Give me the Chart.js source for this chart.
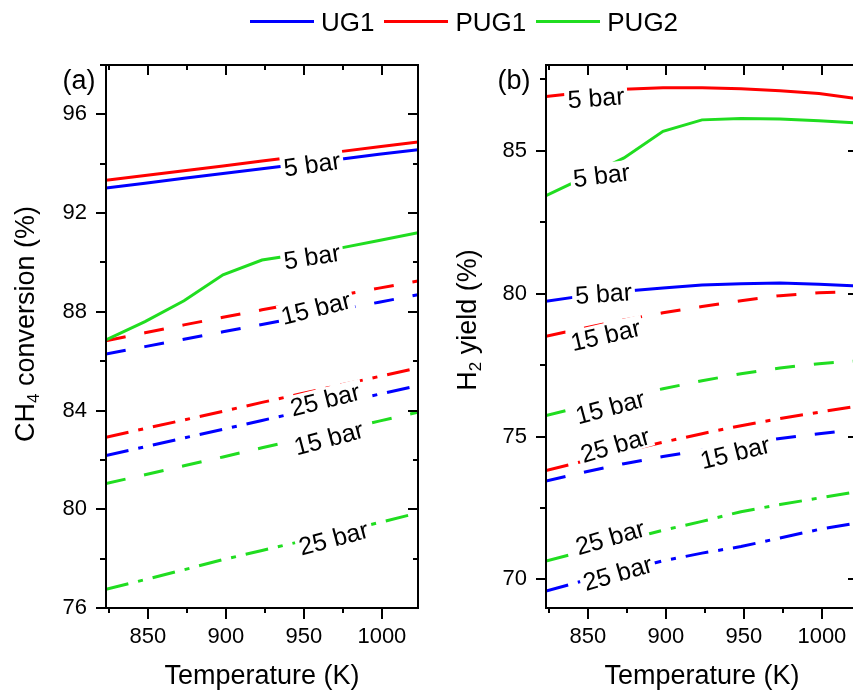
<!DOCTYPE html>
<html><head><meta charset="utf-8">
<script src="https://cdn.jsdelivr.net/npm/chart.js@4.4.1/dist/chart.umd.min.js"></script>
<style>
html,body{margin:0;padding:0;background:#fff;overflow:hidden;}
#wrap{position:relative;width:853px;height:693px;overflow:hidden;background:#fff;font-family:"Liberation Sans",Arial,sans-serif;}
canvas{position:absolute;top:0;}
#ca{left:0;} #cb{left:430px;}
#legend{position:absolute;left:250px;top:1px;height:42px;display:flex;align-items:center;}
.lg-line{width:64px;height:3px;position:relative;top:-1px;}
.lg-text{font-size:26px;line-height:30px;color:#000;white-space:nowrap;margin-left:7px;margin-right:10px;}
</style></head><body>
<div id="wrap">
<canvas id="ca" width="430" height="693"></canvas>
<canvas id="cb" width="440" height="693"></canvas>
<div id="legend"></div>
</div>
<script>
// ---------- data ----------
const temperatureK = [823.15, 848.15, 873.15, 898.15, 923.15, 948.15, 973.15, 998.15, 1023.15];
const seriesNames = ['UG1', 'PUG1', 'PUG2'];
const pressures = ['5 bar', '15 bar', '25 bar'];

// axis ticks
const xTickValues = [825, 850, 875, 900, 925, 950, 975, 1000];
const xTickLabels = [850, 900, 950, 1000];
const yTickValuesA = [76, 78, 80, 82, 84, 86, 88, 90, 92, 94, 96, 98];
const yTickLabelsA = [76, 80, 84, 88, 92, 96];
const yTickValuesB = [70, 72.5, 75, 77.5, 80, 82.5, 85, 87.5];
const yTickLabelsB = [70, 75, 80, 85];

// (a) CH4 conversion (%)
const ch4_UG1_5   = [93.02, 93.21, 93.41, 93.60, 93.80, 93.99, 94.18, 94.38, 94.57];
const ch4_PUG1_5  = [93.33, 93.52, 93.72, 93.91, 94.11, 94.30, 94.49, 94.69, 94.88];
const ch4_PUG2_5  = [86.86, 87.60, 88.45, 89.50, 90.10, 90.34, 90.58, 90.89, 91.20];
const ch4_UG1_15  = [86.29, 86.59, 86.89, 87.19, 87.49, 87.79, 88.09, 88.39, 88.69];
const ch4_PUG1_15 = [86.83, 87.15, 87.47, 87.78, 88.08, 88.38, 88.67, 88.96, 89.25];
const ch4_PUG2_15 = [81.04, 81.40, 81.76, 82.12, 82.49, 82.85, 83.21, 83.57, 83.93];
const ch4_UG1_25  = [82.18, 82.53, 82.89, 83.24, 83.60, 83.95, 84.31, 84.66, 85.01];
const ch4_PUG1_25 = [82.92, 83.27, 83.62, 83.97, 84.33, 84.68, 85.03, 85.38, 85.73];
const ch4_PUG2_25 = [76.76, 77.15, 77.55, 77.96, 78.33, 78.70, 79.08, 79.46, 79.85];

// (b) H2 yield (%)
const h2_UG1_5   = [79.73, 79.93, 80.08, 80.20, 80.30, 80.35, 80.37, 80.33, 80.27];
const h2_PUG1_5  = [86.90, 87.05, 87.15, 87.20, 87.20, 87.17, 87.10, 87.00, 86.82];
const h2_PUG2_5  = [83.43, 84.08, 84.75, 85.68, 86.08, 86.13, 86.11, 86.05, 85.97];
const h2_UG1_15  = [73.44, 73.76, 74.05, 74.30, 74.52, 74.73, 74.93, 75.10, 75.25];
const h2_PUG1_15 = [78.51, 78.80, 79.08, 79.33, 79.55, 79.75, 79.93, 80.03, 80.08];
const h2_PUG2_15 = [75.73, 76.07, 76.40, 76.67, 76.95, 77.20, 77.40, 77.55, 77.65];
const h2_UG1_25  = [69.59, 69.97, 70.30, 70.65, 70.92, 71.15, 71.45, 71.75, 71.98];
const h2_PUG1_25 = [73.81, 74.15, 74.48, 74.80, 75.10, 75.38, 75.63, 75.85, 76.07];
const h2_PUG2_25 = [70.64, 71.00, 71.37, 71.72, 72.03, 72.37, 72.62, 72.85, 73.07];

// inline curve labels (data coordinates + text angle)
const curveLabelsA = [
  {x: 955.2, y: 94.00, text: '5 bar',  rot: -8},
  {x: 955.2, y: 90.26, text: '5 bar',  rot: -9},
  {x: 957.6, y: 88.17, text: '15 bar', rot: -14},
  {x: 963.5, y: 84.46, text: '25 bar', rot: -14},
  {x: 965.8, y: 82.90, text: '15 bar', rot: -15},
  {x: 969.0, y: 78.85, text: '25 bar', rot: -15}
];
const curveLabelsB = [
  {x: 855.2, y: 86.87, text: '5 bar',  rot: -4},
  {x: 858.7, y: 84.16, text: '5 bar',  rot: -7},
  {x: 860.0, y: 80.02, text: '5 bar',  rot: -4},
  {x: 861.3, y: 78.57, text: '15 bar', rot: -13},
  {x: 864.2, y: 76.05, text: '15 bar', rot: -15},
  {x: 867.4, y: 74.72, text: '25 bar', rot: -16},
  {x: 944.3, y: 74.46, text: '15 bar', rot: -14},
  {x: 864.2, y: 71.49, text: '25 bar', rot: -16},
  {x: 869.0, y: 70.24, text: '25 bar', rot: -16}
];

// ---------- styles ----------
const FONT = '"Liberation Sans", Arial, sans-serif';
const colors = {UG1: '#0000ff', PUG1: '#ff0000', PUG2: '#20dd20'};
const dashStyles = {'5 bar': [], '15 bar': [20, 19], '25 bar': [23, 10, 5, 10]};

Chart.defaults.font.family = FONT;
Chart.defaults.color = '#000';

// legend (HTML)
const lg = document.getElementById('legend');
seriesNames.forEach(n => {
  const l = document.createElement('div'); l.className = 'lg-line'; l.style.background = colors[n]; lg.appendChild(l);
  const t = document.createElement('div'); t.className = 'lg-text'; t.textContent = n; lg.appendChild(t);
});

function ds(name, p, values) {
  return {
    label: name + ' ' + p,
    data: temperatureK.map((t, i) => ({x: t, y: values[i]})),
    borderColor: colors[name], backgroundColor: colors[name],
    borderDash: dashStyles[p], borderWidth: 3, borderCapStyle: 'butt',
    pointRadius: 0, pointHoverRadius: 0, tension: 0, fill: false
  };
}

const inlineLabels = {
  id: 'inlineLabels',
  afterDatasetsDraw(chart, args, opts) {
    const {ctx, chartArea: a, scales: {x, y}} = chart;
    const fs = opts.size || 25;
    ctx.save();
    ctx.beginPath(); ctx.rect(a.left, a.top, a.right - a.left, a.bottom - a.top); ctx.clip();
    ctx.font = fs + 'px ' + FONT;
    (opts.items || []).forEach(it => {
      const px = x.getPixelForValue(it.x), py = y.getPixelForValue(it.y);
      ctx.save();
      ctx.translate(px, py);
      ctx.rotate(it.rot * Math.PI / 180);
      const w = ctx.measureText(it.text).width;
      ctx.fillStyle = '#fff';
      ctx.fillRect(-w / 2 - 3, -fs * 0.46, w + 6, fs * 0.92);
      ctx.fillStyle = '#000';
      ctx.textAlign = 'center'; ctx.textBaseline = 'alphabetic';
      ctx.fillText(it.text, 0, fs * 0.36);
      ctx.restore();
    });
    ctx.restore();
  }
};

const frame = {
  id: 'frame',
  afterDraw(chart, args, opts) {
    const {ctx, chartArea: a, scales: {x, y}} = chart;
    ctx.save();
    ctx.strokeStyle = '#000'; ctx.lineWidth = 2; ctx.lineCap = 'butt';
    const L = (x1, y1, x2, y2) => { ctx.beginPath(); ctx.moveTo(x1, y1); ctx.lineTo(x2, y2); ctx.stroke(); };
    const l = Math.round(a.left), r = Math.round(a.right), t = Math.round(a.top), b = Math.round(a.bottom);
    ctx.strokeRect(l, t, r - l, b - t);
    x.ticks.forEach(tk => {
      if (tk.value < x.min || tk.value > x.max) return;
      const px = Math.round(x.getPixelForValue(tk.value));
      const major = tk.label !== '';
      L(px, b, px, b + (major ? 11 : 5));
      L(px, t, px, t + (major ? 10 : 5));
    });
    y.ticks.forEach(tk => {
      if (tk.value < y.min || tk.value > y.max) return;
      const py = Math.round(y.getPixelForValue(tk.value));
      const major = tk.label !== '';
      L(l, py, l - (major ? 10 : 6), py);
      L(r, py, r - (major ? 10 : 5), py);
    });
    // panel tag
    ctx.fillStyle = '#000';
    ctx.font = '27px ' + FONT;
    ctx.textAlign = 'center'; ctx.textBaseline = 'middle';
    ctx.fillText(opts.tag, a.left + opts.tagDx, a.top + 17);
    // rotated y title with subscript
    const fs = 27, sfs = 17;
    ctx.save();
    ctx.translate(opts.titleX, opts.titleY);
    ctx.rotate(-Math.PI / 2);
    ctx.textAlign = 'left'; ctx.textBaseline = 'alphabetic';
    let total = 0;
    opts.titleParts.forEach(p => { ctx.font = (p.sub ? sfs : fs) + 'px ' + FONT; total += ctx.measureText(p.t).width; });
    let cx = -total / 2;
    opts.titleParts.forEach(p => {
      ctx.font = (p.sub ? sfs : fs) + 'px ' + FONT;
      ctx.fillText(p.t, cx, p.sub ? 5 : 0);
      cx += ctx.measureText(p.t).width;
    });
    ctx.restore();
    ctx.restore();
  }
};

function makeChart(id, datasets, yMin, yMax, yTickValues, yTickLabels, yAxisWidth, labelItems, tag, tagDx, titleParts, titleX, titleY) {
  return new Chart(document.getElementById(id), {
    type: 'line',
    data: {datasets},
    plugins: [inlineLabels, frame],
    options: {
      responsive: false, animation: false, devicePixelRatio: 1,
      layout: {padding: {left: 0, right: 12, top: 65, bottom: 0}},
      plugins: {
        legend: {display: false}, tooltip: {enabled: false},
        inlineLabels: {items: labelItems, size: 25},
        frame: {tag, tagDx, titleParts, titleX, titleY}
      },
      scales: {
        x: {
          type: 'linear', min: 823.15, max: 1023.15,
          afterBuildTicks: s => { s.ticks = xTickValues.map(v => ({value: v})); },
          afterFit: s => { s.height = 85; },
          grid: {display: false, drawTicks: false}, border: {display: false},
          ticks: {autoSkip: false, maxRotation: 0, minRotation: 0,
                  padding: 16, font: {size: 22}, color: '#000',
                  callback: v => (xTickLabels.includes(v) ? String(v) : '')},
          title: {display: true, text: 'Temperature (K)', font: {size: 27}, color: '#000', padding: {top: 0, bottom: 0}}
        },
        y: {
          type: 'linear', min: yMin, max: yMax,
          afterBuildTicks: s => { s.ticks = yTickValues.map(v => ({value: v})); },
          afterFit: s => { s.width = yAxisWidth; },
          grid: {display: false, drawTicks: false}, border: {display: false},
          ticks: {autoSkip: false, padding: 19, font: {size: 22}, color: '#000',
                  callback: v => (yTickLabels.includes(v) ? String(v) : '')}
        }
      }
    }
  });
}

makeChart('ca', [
  ds('UG1', '5 bar', ch4_UG1_5), ds('PUG1', '5 bar', ch4_PUG1_5), ds('PUG2', '5 bar', ch4_PUG2_5),
  ds('UG1', '15 bar', ch4_UG1_15), ds('PUG1', '15 bar', ch4_PUG1_15), ds('PUG2', '15 bar', ch4_PUG2_15),
  ds('UG1', '25 bar', ch4_UG1_25), ds('PUG1', '25 bar', ch4_PUG1_25), ds('PUG2', '25 bar', ch4_PUG2_25)
], 76, 98, yTickValuesA, yTickLabelsA, 106, curveLabelsA, '(a)', -27,
  [{t: 'CH'}, {t: '4', sub: true}, {t: ' conversion (%)'}], 34, 324);

makeChart('cb', [
  ds('UG1', '5 bar', h2_UG1_5), ds('PUG1', '5 bar', h2_PUG1_5), ds('PUG2', '5 bar', h2_PUG2_5),
  ds('UG1', '15 bar', h2_UG1_15), ds('PUG1', '15 bar', h2_PUG1_15), ds('PUG2', '15 bar', h2_PUG2_15),
  ds('UG1', '25 bar', h2_UG1_25), ds('PUG1', '25 bar', h2_PUG1_25), ds('PUG2', '25 bar', h2_PUG2_25)
], 69, 88, yTickValuesB, yTickLabelsB, 116, curveLabelsB, '(b)', -32,
  [{t: 'H'}, {t: '2', sub: true}, {t: ' yield (%)'}], 46, 320);
</script>
</body></html>
